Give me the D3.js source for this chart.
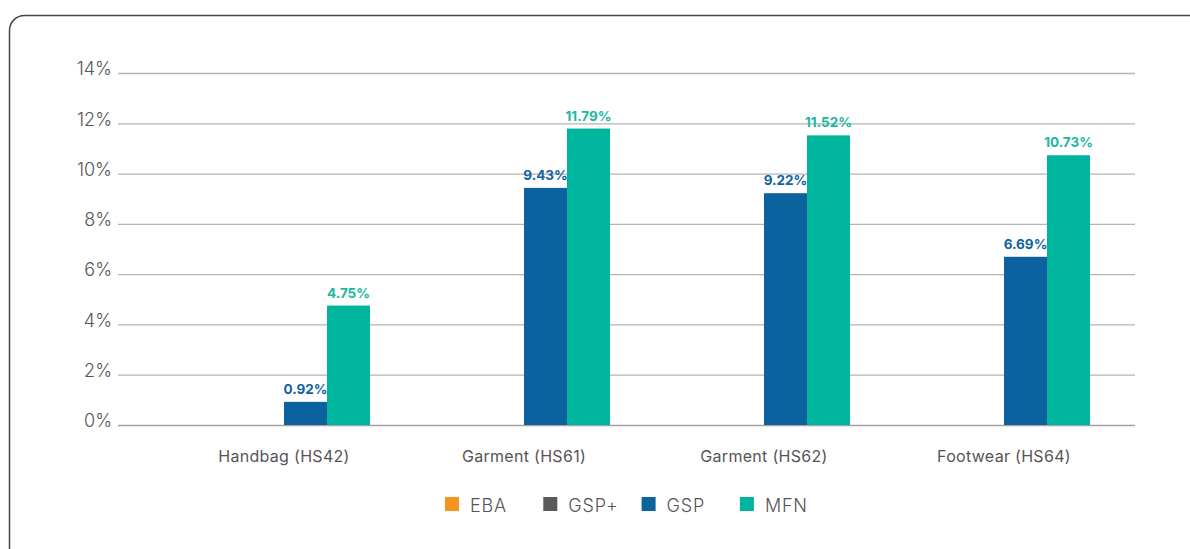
<!DOCTYPE html>
<html>
<head>
<meta charset="utf-8">
<script src="https://cdn.jsdelivr.net/npm/d3@7"></script>
<style>
  html, body { margin: 0; padding: 0; background: #fff; }
  svg { display: block; font-family: Inter, "Noto Sans", sans-serif; }
</style>
</head>
<body>
<svg id="chart" width="1190" height="549"></svg>
<script>
// Tariff rates by product group and trade regime
const categories = ["Handbag (HS42)", "Garment (HS61)", "Garment (HS62)", "Footwear (HS64)"];
const seriesNames = ["EBA", "GSP+", "GSP", "MFN"];
const ebaValues = [null, null, null, null];
const gspPlusValues = [null, null, null, null];
const gspValues = [0.92, 9.43, 9.22, 6.69];
const mfnValues = [4.75, 11.79, 11.52, 10.73];
const yTicks = [0, 2, 4, 6, 8, 10, 12, 14];

const seriesColors = { "EBA": "#f7941d", "GSP+": "#58595b", "GSP": "#0c619f", "MFN": "#00b59e" };
const labelColors = { "GSP": "#1163a0", "MFN": "#19b8a1" };
const seriesValues = { "EBA": ebaValues, "GSP+": gspPlusValues, "GSP": gspValues, "MFN": mfnValues };

const svg = d3.select("#chart");

// Rounded frame around the chart
svg.append("rect")
  .attr("x", 9.5).attr("y", 15.5)
  .attr("width", 1220).attr("height", 580)
  .attr("rx", 15).attr("ry", 15)
  .attr("fill", "none")
  .attr("stroke", "#3e4754")
  .attr("stroke-width", 1.5);

const y = d3.scaleLinear().domain([0, 14]).range([425, 73]);
const x = d3.scaleBand().domain(categories).range([164, 1124]).padding(0);
const inner = d3.scaleBand().domain(seriesNames).range([-86, 86]).padding(0);

// Horizontal gridlines
const gridX0 = 118, gridX1 = 1135;
svg.append("g").selectAll("line")
  .data(yTicks)
  .join("line")
  .attr("x1", gridX0).attr("x2", gridX1)
  .attr("y1", d => y(d) + 0.5).attr("y2", d => y(d) + 0.5)
  .attr("stroke", d => d === 0 ? "#a3a3a3" : "#b4b4b4")
  .attr("stroke-width", 1.3);

// Y axis labels
const yAxis = d3.axisLeft(y).tickValues(yTicks).tickFormat(d => d + "%").tickSize(0).tickPadding(0);
const yAxisG = svg.append("g").attr("transform", "translate(112,0)").call(yAxis);
yAxisG.select(".domain").remove();
yAxisG.selectAll("text")
  .attr("dy", "0.1em")
  .attr("fill", "#555")
  .style("font-size", "18px")
  .style("font-weight", 300)
  .style("font-family", "Inter, sans-serif");

// X axis labels
const xAxis = d3.axisBottom(x).tickSize(0).tickPadding(0);
const xAxisG = svg.append("g").attr("transform", "translate(0,450)").call(xAxis);
xAxisG.select(".domain").remove();
xAxisG.selectAll("text")
  .attr("dy", "0.75em")
  .attr("fill", "#555")
  .style("font-size", "16px")
  .style("font-weight", 400)
  .style("letter-spacing", "0.3px")
  .style("font-family", "Inter, sans-serif");

// Bars
const barData = [];
categories.forEach((c, i) => {
  seriesNames.forEach(s => {
    const v = seriesValues[s][i];
    if (v != null) barData.push({ category: c, series: s, value: v });
  });
});

const cx = d => x(d.category) + x.bandwidth() / 2 + inner(d.series);

svg.append("g").selectAll("rect")
  .data(barData)
  .join("rect")
  .attr("x", cx)
  .attr("y", d => y(d.value))
  .attr("width", inner.bandwidth())
  .attr("height", d => y(0) - y(d.value))
  .attr("fill", d => seriesColors[d.series]);

// Value labels
svg.append("g").selectAll("text")
  .data(barData)
  .join("text")
  .attr("x", d => cx(d) + inner.bandwidth() / 2)
  .attr("y", d => y(d.value) - 8)
  .attr("text-anchor", "middle")
  .attr("fill", d => labelColors[d.series])
  .style("font-size", "13.5px")
  .style("font-weight", 700)
  .style("font-family", "Inter, sans-serif")
  .text(d => d.value.toFixed(2) + "%");

// Legend
const legend = svg.append("g").attr("transform", "translate(445,497)");
const legendItem = legend.selectAll("g")
  .data(seriesNames)
  .join("g")
  .attr("transform", (d, i) => `translate(${i * 98.3},0)`);
legendItem.append("rect")
  .attr("width", 14).attr("height", 14)
  .attr("fill", d => seriesColors[d]);
legendItem.append("text")
  .attr("x", 25).attr("y", 14.5)
  .attr("fill", "#555")
  .style("font-size", "18px")
  .style("font-weight", 300)
  .style("letter-spacing", "0.8px")
  .style("font-family", "Inter, sans-serif")
  .text(d => d);
</script>
</body>
</html>
